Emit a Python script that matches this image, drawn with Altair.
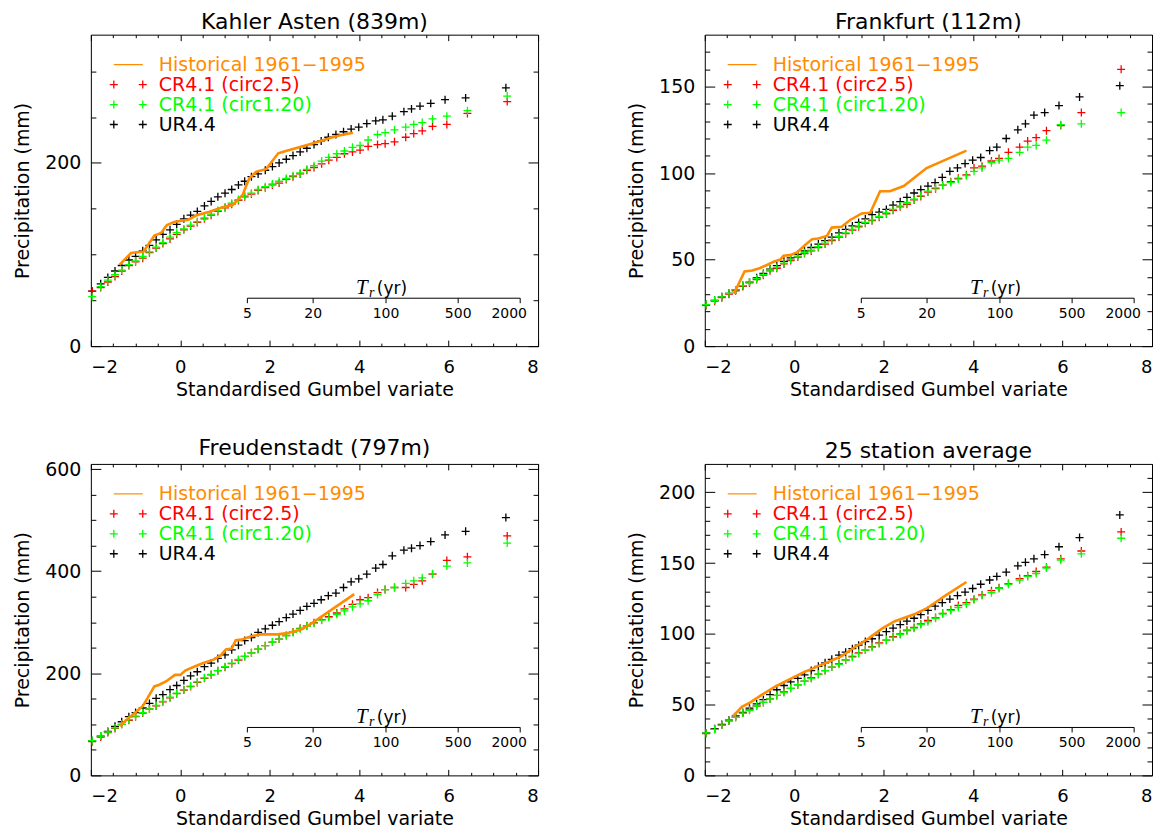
import math
import altair as alt
import pandas as pd

# ---------------- data ----------------
# Gumbel plotting positions of the model points (UR4.4 and CR4.1 runs)
X_UR = [-1.97, -1.78, -1.62, -1.46, -1.31, -1.15, -1.00, -0.84, -0.69, -0.54,
        -0.39, -0.23, -0.08, 0.08, 0.23, 0.38, 0.54, 0.69, 0.84, 1.00,
        1.15, 1.30, 1.44, 1.59, 1.74, 1.90, 2.06, 2.21, 2.37, 2.52,
        2.68, 2.83, 2.99, 3.15, 3.31, 3.48, 3.65, 3.82, 3.99, 4.17,
        4.37, 4.53, 4.74, 5.00, 5.17, 5.36, 5.60, 5.92, 6.38, 7.28]
X_CR = [-1.97, -1.78, -1.62, -1.46, -1.31, -1.15, -1.00, -0.84, -0.69, -0.54,
        -0.39, -0.23, -0.08, 0.08, 0.23, 0.38, 0.54, 0.69, 0.84, 1.00,
        1.15, 1.30, 1.44, 1.59, 1.74, 1.90, 2.06, 2.21, 2.37, 2.52,
        2.68, 2.83, 2.99, 3.16, 3.32, 3.50, 3.67, 3.85, 4.02, 4.20,
        4.41, 4.58, 4.79, 5.04, 5.22, 5.41, 5.64, 5.96, 6.42, 7.31]

# Kahler Asten (839m)
KA_UR = [60, 68, 75, 82, 88, 94, 98, 104, 110, 116,
         122, 127, 133, 139, 143, 147, 153, 158, 163, 167,
         171, 176, 180, 185, 188, 192, 196, 200, 204, 208,
         212, 216, 220, 224, 228, 231, 234, 237, 239, 243,
         246, 247, 251, 256, 259, 262, 265, 269, 271, 282]
KA_C25 = [60, 64, 70, 76, 82, 88, 92, 96, 102, 107,
          112, 117, 122, 127, 131, 135, 139, 143, 147, 151,
          155, 159, 163, 166, 170, 173, 176, 178, 182, 185,
          188, 192, 195, 199, 203, 206, 210, 212, 214, 218,
          220, 221, 223, 228, 232, 235, 240, 242, 254, 267]
KA_C120 = [54, 65, 72, 78, 83, 89, 93, 98, 103, 108,
           113, 119, 124, 128, 132, 136, 140, 144, 148, 152,
           156, 160, 164, 167, 171, 174, 177, 180, 183, 186,
           189, 193, 197, 202, 206, 210, 213, 217, 219, 225,
           231, 233, 236, 239, 242, 244, 248, 251, 257, 273]
KA_HX = [-1.36, -1.10, -0.82, -0.58, -0.43, -0.30, -0.12, 0.18, 0.37, 0.65,
         0.95, 1.17, 1.34, 1.39, 1.54, 1.70, 1.92, 2.19, 2.36, 2.62,
         2.99, 3.29, 3.55, 3.86]
KA_HY = [88.7, 101.8, 103.2, 120.8, 123.5, 132.2, 135.9, 138.0, 143.0, 146.7,
         151.5, 154.0, 162.5, 164.8, 183.0, 190.5, 193.2, 210.5, 213.0, 216.6,
         221.7, 226.4, 230.0, 233.0]

# Frankfurt (112m)
FR_UR = [24, 26.5, 28.5, 30.5, 32.5, 35, 37, 39.5, 42, 44.5,
         46.5, 49, 51, 53, 55, 57, 59, 61, 63, 65.5,
         67.5, 69.5, 71.5, 73.5, 76, 77.5, 79, 81.5, 83.5, 86,
         88.5, 90.5, 92.5, 94.5, 97.5, 101, 103, 105.5, 107.5, 109,
         113, 115, 120, 125, 128.5, 133.5, 135, 139, 144, 150.5]
FR_C25 = [23.5, 26, 28, 30, 32, 34.5, 36.5, 38.5, 41, 43.5,
          45, 47.5, 49.5, 51.5, 53.5, 55, 57, 59, 61, 63,
          65, 67, 69, 71, 72.5, 74.5, 76.5, 78.5, 80.5, 82,
          84.5, 86.5, 89, 91, 93, 95, 97, 99, 103, 104,
          107, 108.5, 112, 115, 118.5, 120.5, 124.5, 127.5, 135, 160]
FR_C120 = [24, 26.5, 28.5, 30.5, 32.5, 35, 37, 39, 41.5, 44,
           45.5, 48, 50, 52, 54, 55.5, 57.5, 59.5, 61.5, 63.5,
           65.5, 67.5, 69.5, 71.5, 73, 75, 77, 79, 81, 83,
           85, 87, 89.5, 91.5, 93, 94.5, 96.5, 98.5, 101, 103,
           106, 107.5, 108.5, 112, 115, 116, 119, 128, 128.5, 135]
FR_HX = [-1.35, -1.11, -0.94, -0.76, -0.61, -0.46, -0.31, -0.24, -0.09, 0.06,
         0.25, 0.40, 0.54, 0.73, 0.84, 1.06, 1.25, 1.51, 1.70, 1.92,
         2.14, 2.45, 2.96, 3.85]
FR_HY = [30.3, 43.1, 43.7, 45.2, 46.9, 48.8, 50.0, 52.3, 52.6, 54.2,
         58.6, 61.8, 62.2, 63.7, 68.5, 69.0, 72.9, 76.7, 77.1, 89.5,
         89.5, 92.5, 102.9, 113.0]

# Freudenstadt (797m)
FD_UR = [68, 77, 86, 96, 105, 115, 123, 132, 141, 151,
         158, 168, 176, 186, 195, 203, 213, 220, 229, 236,
         246, 255, 264, 270, 280, 287, 294, 301, 309, 316,
         323, 331, 337, 344, 352, 357, 368, 379, 385, 394,
         406, 413, 430, 441, 445, 450, 458, 471, 478, 505]
FD_C25 = [66, 75, 84, 92, 100, 108, 115, 122, 130, 136,
          144, 152, 160, 167, 174, 182, 190, 197, 205, 212,
          219, 226, 233, 240, 247, 254, 261, 267, 274, 281,
          288, 293, 299, 305, 311, 318, 326, 335, 344, 348,
          358, 364, 368, 368, 374, 381, 394, 421, 428, 469]
FD_C120 = [68, 77, 85, 93, 100, 109, 116, 123, 130, 137,
           145, 153, 161, 168, 175, 183, 191, 198, 205, 213,
           220, 227, 233, 240, 247, 254, 261, 267, 274, 280,
           287, 292, 298, 304, 309, 315, 322, 330, 336, 342,
           354, 364, 368, 376, 381, 387, 395, 410, 416, 455]
FD_HX = [-1.36, -1.10, -0.84, -0.73, -0.58, -0.47, -0.32, -0.12, 0.00, 0.11,
         0.28, 0.50, 0.76, 0.91, 1.02, 1.15, 1.24, 1.37, 1.58, 1.80,
         2.17, 2.40, 2.69, 2.92, 3.89]
FD_HY = [96.8, 116.1, 135.5, 151.7, 174.2, 177.5, 183.9, 196.8, 196.8, 205.2,
         211.7, 219.5, 227.2, 235.5, 246.6, 248.5, 264.6, 265.9, 272.3, 276.2,
         276.2, 278.7, 285.3, 296.9, 355.0]

# 25 station average
AV_UR = [30, 33, 36, 39, 42, 44.5, 47.5, 50.5, 53.5, 57,
         60.5, 63.5, 66, 68.5, 71, 74, 77, 79.5, 82, 85,
         87, 89.5, 92, 94.5, 96.5, 99, 101.5, 104, 106.5, 109,
         111, 113.5, 116.5, 119.5, 122, 124.5, 127, 129.5, 132, 135,
         138, 140.5, 143.5, 148, 150.5, 153, 156, 161.5, 168, 184]
AV_C25 = [29.5, 32.5, 35.5, 38.5, 41, 44, 46.5, 49, 51.5, 54,
          56.5, 59, 61.5, 64, 66.5, 69, 71.5, 74, 76.5, 79,
          81.5, 84, 86.5, 88.5, 91, 93.5, 95.5, 98, 100, 102.5,
          104.5, 107, 109.5, 111.5, 114.5, 117, 120, 122, 124.5, 127.5,
          130.5, 132.5, 135.5, 139, 141, 144, 147, 153, 158.5, 172]
AV_C120 = [30, 32.5, 35.5, 38.5, 41, 44, 46, 49, 51.5, 54,
           56.5, 58.5, 61.5, 64, 66.5, 68.5, 71.5, 74, 76.5, 78.5,
           81.5, 83.5, 86, 88.5, 90.5, 93, 95.5, 97.5, 99.5, 102,
           104, 106.5, 108.5, 111, 114, 116.5, 118.5, 121, 124, 127,
           129, 132, 135, 138, 140.5, 142.5, 146.5, 152, 156.5, 167.5]
AV_HX = [-1.37, -1.17, -0.98, -0.72, -0.42, -0.13, 0.17, 0.47, 0.77, 1.06,
         1.36, 1.66, 1.96, 2.25, 2.70, 2.96, 3.37, 3.85]
AV_HY = [41.9, 48.4, 51.6, 57.0, 62.8, 67.5, 72.2, 76.3, 80.3, 84.2,
         90.7, 96.6, 103.6, 108.9, 114.0, 117.9, 126.8, 136.6]

TITLES = ["Kahler Asten (839m)", "Frankfurt (112m)", "Freudenstadt (797m)", "25 station average"]
Y_DOMAINS = [[0, 340], [0, 180], [0, 610], [0, 220]]
Y_LABELS = [[0, 200], [0, 50, 100, 150], [0, 200, 400, 600], [0, 50, 100, 150, 200]]
Y_MINOR_STEP = [50, 10, 50, 10]
Y_TICK_TOP = [300, 170, 600, 210]
X_LABELS = [-2, 0, 2, 4, 6, 8]
X_MINOR_STEP = 0.5
RETURN_PERIODS = [5, 20, 100, 500, 2000]
LEGEND_LABELS = ["Historical 1961\u22121995", "CR4.1 (circ2.5)", "CR4.1 (circ1.20)", "UR4.4"]

# ---------------- styling ----------------
FONT = "DejaVu Sans"
ORANGE = "#ff8c00"
RED = "#ff0000"
GREEN = "#00ff00"
BLACK = "#000000"
LEGEND_COLORS = [ORANGE, RED, GREEN, BLACK]
PLUS = "M-1,0L1,0M0,-1L0,1"
W, H = 448, 312
MSIZE = 64
MSTROKE = 1.3


def gumbel(T):
    return -math.log(-math.log(1.0 - 1.0 / T))


def make_panel(i, ur, c25, c120, hx, hy):
    xs = alt.Scale(domain=[-2, 8], nice=False, zero=False)
    ys = alt.Scale(domain=Y_DOMAINS[i], nice=False, zero=False)
    nxt = int(round((X_LABELS[-1] - X_LABELS[0]) / X_MINOR_STEP))
    xt = [X_LABELS[0] + X_MINOR_STEP * k for k in range(nxt + 1)]
    yt = list(range(0, Y_TICK_TOP[i] + 1, Y_MINOR_STEP[i]))
    ymaj = Y_LABELS[i][1] - Y_LABELS[i][0]
    xcond = {"condition": {"test": "datum.value % 2 === 0", "value": 6}, "value": 3}
    ycond = {"condition": {"test": f"datum.value % {ymaj} === 0", "value": 10}, "value": 5}
    tick_common = dict(labels=False, domain=False, grid=False, title=None,
                       tickColor="black", tickWidth=1)

    ax_x_lab = alt.Axis(orient="bottom", values=X_LABELS, format="d", ticks=False,
                        domain=False, grid=False, labelFont=FONT, labelFontSize=18,
                        labelColor="black", labelPadding=12,
                        title="Standardised Gumbel variate", titleFont=FONT,
                        titleFontSize=19, titleFontWeight="normal", titleColor="black",
                        titlePadding=4)
    ax_x_bot = alt.Axis(orient="top", offset=-H, values=xt, tickSize=xcond, **tick_common)
    ax_x_top = alt.Axis(orient="bottom", offset=-H, values=xt, tickSize=xcond, **tick_common)
    ax_y_lab = alt.Axis(orient="left", values=Y_LABELS[i], format="d", ticks=False,
                        domain=False, grid=False, labelFont=FONT, labelFontSize=19,
                        labelColor="black", labelPadding=10,
                        title="Precipitation (mm)", titleFont=FONT, titleFontSize=19,
                        titleFontWeight="normal", titleColor="black", titlePadding=12)
    ax_y_left = alt.Axis(orient="right", offset=-W, values=yt, tickSize=ycond, **tick_common)
    ax_y_right = alt.Axis(orient="left", offset=-W, values=yt, tickSize=ycond, **tick_common)

    def pts(xv, yv, color, xax, yax):
        df = pd.DataFrame({"x": xv, "v": yv})
        return alt.Chart(df).mark_point(shape=PLUS, filled=False, size=MSIZE,
                                        strokeWidth=MSTROKE, color=color, opacity=1).encode(
            x=alt.X("x:Q", scale=xs, axis=xax),
            y=alt.Y("v:Q", scale=ys, axis=yax),
        )

    p_ur = pts(X_UR, ur, BLACK, ax_x_lab, ax_y_lab)
    p_c25 = pts(X_CR, c25, RED, ax_x_bot, ax_y_left)
    p_c120 = pts(X_CR, c120, GREEN, ax_x_top, ax_y_right)

    hist = alt.Chart(pd.DataFrame({"x": hx, "v": hy})).mark_line(
        color=ORANGE, strokeWidth=2.6).encode(
        x=alt.X("x:Q", scale=xs, axis=None),
        y=alt.Y("v:Q", scale=ys, axis=None),
        order="x:Q",
    )

    # inner return-period axis
    df_t = pd.DataFrame({"T": RETURN_PERIODS, "lab": [str(t) for t in RETURN_PERIODS]})
    df_t["g"] = df_t["T"].map(gumbel)
    g_lo, g_hi = df_t["g"].min(), df_t["g"].max()
    df_span = pd.DataFrame({"g0": [g_lo], "g1": [g_hi], "gm": [(g_lo + g_hi) / 2]})
    base_y = H - 48
    t_line = alt.Chart(df_span).mark_rule(color="black", strokeWidth=1).encode(
        x=alt.X("g0:Q", scale=xs, axis=None), x2="g1:Q", y=alt.value(base_y))
    t_ticks = alt.Chart(df_t).mark_rule(color="black", strokeWidth=1).encode(
        x=alt.X("g:Q", scale=xs, axis=None), y=alt.value(base_y), y2=alt.value(base_y + 5))
    t_labs = alt.Chart(df_t).transform_filter("datum.T < 2000").mark_text(
        font=FONT, fontSize=14, align="center", baseline="middle", color="black").encode(
        x=alt.X("g:Q", scale=xs, axis=None), y=alt.value(base_y + 16), text="lab:N")
    t_lab_last = alt.Chart(df_t).transform_filter("datum.T >= 2000").mark_text(
        font=FONT, fontSize=14, align="center", baseline="middle", color="black", dx=-11).encode(
        x=alt.X("g:Q", scale=xs, axis=None), y=alt.value(base_y + 16), text="lab:N")
    t_T = alt.Chart(df_span).mark_text(
        text="T", font="Liberation Serif", fontStyle="italic", fontSize=21, align="center",
        baseline="alphabetic", color="black", dx=-22).encode(
        x=alt.X("gm:Q", scale=xs, axis=None), y=alt.value(base_y - 4))
    t_r = alt.Chart(df_span).mark_text(
        text="r", font="Liberation Serif", fontStyle="italic", fontSize=14, align="center",
        baseline="alphabetic", color="black", dx=-12).encode(
        x=alt.X("gm:Q", scale=xs, axis=None), y=alt.value(base_y - 1))
    t_yr = alt.Chart(df_span).mark_text(
        text="(yr)", font=FONT, fontSize=17, align="left",
        baseline="alphabetic", color="black", dx=-7).encode(
        x=alt.X("gm:Q", scale=xs, axis=None), y=alt.value(base_y - 4))

    # legend (drawn inside the frame, as in the reference)
    df_leg = pd.DataFrame({"lab": LEGEND_LABELS, "col": LEGEND_COLORS, "row": [0, 1, 2, 3]})
    leg_text = alt.Chart(df_leg).transform_calculate(py="30 + 20 * datum.row").mark_text(
        font=FONT, fontSize=19, align="left", baseline="middle").encode(
        x=alt.value(68), y=alt.Y("py:Q", scale=None, axis=None), text="lab:N",
        color=alt.Color("col:N", scale=None, legend=None))
    leg_line = alt.Chart(pd.DataFrame({"a": [0]})).mark_rule(
        color=ORANGE, strokeWidth=1.2).encode(
        x=alt.value(23), x2=alt.value(52), y=alt.value(30))
    df_pts = df_leg[df_leg["row"] > 0]
    leg_m1 = alt.Chart(df_pts).transform_calculate(py="30 + 20 * datum.row").mark_point(
        shape=PLUS, filled=False, size=MSIZE, strokeWidth=MSTROKE, opacity=1).encode(
        x=alt.value(23), y=alt.Y("py:Q", scale=None, axis=None),
        color=alt.Color("col:N", scale=None, legend=None))
    leg_m2 = alt.Chart(df_pts).transform_calculate(py="30 + 20 * datum.row").mark_point(
        shape=PLUS, filled=False, size=MSIZE, strokeWidth=MSTROKE, opacity=1).encode(
        x=alt.value(52), y=alt.Y("py:Q", scale=None, axis=None),
        color=alt.Color("col:N", scale=None, legend=None))

    layered = alt.layer(
        p_ur, p_c25, p_c120, hist,
        t_line, t_ticks, t_labs, t_lab_last, t_T, t_r, t_yr,
        leg_line, leg_m1, leg_m2, leg_text,
    ).resolve_axis(x="independent", y="independent").properties(
        width=W, height=H,
        title=alt.TitleParams(TITLES[i], font=FONT, fontSize=22, fontWeight="normal",
                              color="black", anchor="middle", offset=0),
    )
    return layered


p1 = make_panel(0, KA_UR, KA_C25, KA_C120, KA_HX, KA_HY)
p2 = make_panel(1, FR_UR, FR_C25, FR_C120, FR_HX, FR_HY)
p3 = make_panel(2, FD_UR, FD_C25, FD_C120, FD_HX, FD_HY)
p4 = make_panel(3, AV_UR, AV_C25, AV_C120, AV_HX, AV_HY)

chart = alt.concat(p1, p2, p3, p4, columns=2, spacing={"row": 118, "column": 167},
                   bounds="flush").properties(
    padding={"left": 5, "top": 2, "right": 0, "bottom": 0},
    background="white",
).configure_view(stroke="black", strokeWidth=1)

chart.save("out.html", embed_options={"renderer": "svg", "actions": False})
